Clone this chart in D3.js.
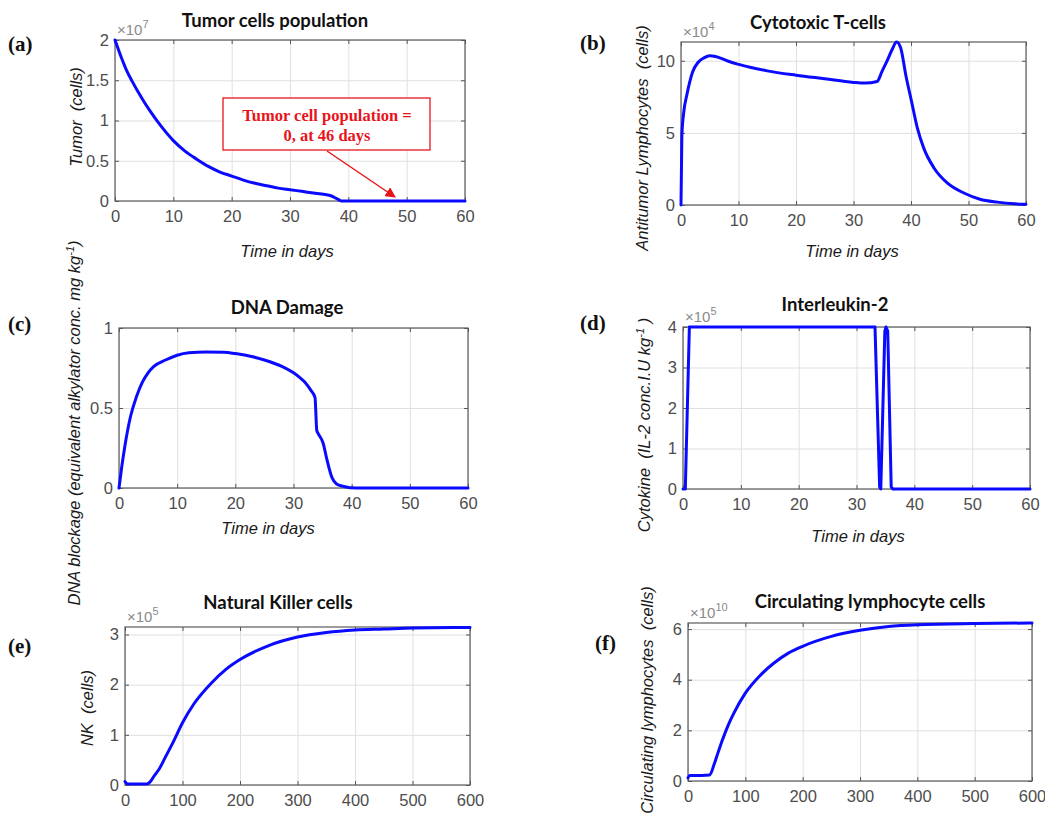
<!DOCTYPE html>
<html>
<head>
<meta charset="utf-8">
<script src="https://cdn.jsdelivr.net/npm/d3@7"></script>
<style>
  body { margin: 0; background: #fff; }
  text { white-space: pre; }
</style>
</head>
<body>
<svg id="fig" width="1045" height="814"></svg>
<script>
// ---- data ----
const dayTicks = [0, 10, 20, 30, 40, 50, 60];
const longTicks = [0, 100, 200, 300, 400, 500, 600];

// (a) tumor cells, x1e7
const tumorT = [0, 1, 2, 3, 4, 5, 6, 8, 10, 12, 14, 16, 18, 20, 22, 24, 26, 28, 30, 32, 34, 36, 37, 38, 38.8, 40, 50, 60];
const tumorY = [2.0, 1.8, 1.62, 1.48, 1.35, 1.23, 1.12, 0.92, 0.75, 0.62, 0.52, 0.43, 0.36, 0.31, 0.26, 0.22, 0.19, 0.16, 0.14, 0.12, 0.10, 0.08, 0.065, 0.03, 0, 0, 0, 0];

// (b) cytotoxic T-cells, x1e4
const tcellT = [0, 0.15, 0.5, 1, 1.5, 2, 3, 4, 5, 6, 8, 10, 12, 15, 20, 25, 30, 32, 34.1, 35, 35.8, 36.7, 37.5, 38.2, 39.1, 40.1, 41.1, 42.2, 44, 46.3, 49.2, 52, 55, 58, 60];
const tcellY = [0, 4.8, 6.5, 7.6, 8.5, 9.2, 9.9, 10.2, 10.35, 10.3, 10.0, 9.75, 9.55, 9.3, 9.0, 8.75, 8.5, 8.45, 8.56, 9.3, 9.95, 10.76, 11.3, 10.9, 9.0, 7.17, 5.35, 3.96, 2.57, 1.53, 0.83, 0.4, 0.2, 0.08, 0.05];

// (c) DNA damage
const dnaT = [0, 0.5, 1, 2, 3, 4, 5, 6, 8, 10, 12, 15, 18, 20, 23, 25, 28, 30, 31.1, 32, 33, 33.7, 34.0, 34.25, 35.1, 35.7, 36.6, 37.4, 38.6, 39.7, 42, 60];
const dnaY = [0, 0.14, 0.26, 0.45, 0.57, 0.66, 0.72, 0.76, 0.80, 0.83, 0.845, 0.85, 0.848, 0.84, 0.82, 0.80, 0.76, 0.72, 0.69, 0.66, 0.61, 0.565, 0.36, 0.34, 0.28, 0.185, 0.066, 0.025, 0.01, 0.002, 0, 0];

// (d) interleukin-2, x1e5
const il2T = [0, 0.4, 1.1, 33.2, 34.0, 34.2, 34.9, 35.1, 35.4, 36.0, 36.3, 60];
const il2Y = [0, 0, 4, 4, 0.05, 0, 3.9, 4, 3.9, 0.05, 0, 0];

// (e) NK cells, x1e5
const nkT = [0, 2, 5, 38, 45, 50, 60, 70, 84, 100, 120, 150, 175, 200, 250, 300, 350, 400, 450, 500, 600];
const nkY = [0.07, 0.04, 0.02, 0.02, 0.08, 0.17, 0.33, 0.55, 0.86, 1.24, 1.62, 2.03, 2.30, 2.50, 2.78, 2.95, 3.04, 3.09, 3.11, 3.13, 3.14];

// (f) circulating lymphocytes, x1e10
const circT = [0, 3, 10, 38, 45, 50, 60, 70, 80, 100, 125, 150, 175, 200, 250, 300, 350, 400, 500, 600];
const circY = [0.12, 0.22, 0.22, 0.24, 0.62, 0.96, 1.62, 2.2, 2.68, 3.47, 4.15, 4.66, 5.05, 5.32, 5.71, 5.95, 6.1, 6.17, 6.22, 6.24];

const panels = [
  { tag: '(a)', tagPos: [8, 51], box: [115, 40, 465, 201], xd: [0, 60], yd: [0, 2],
    xt: dayTicks, yt: [0, 0.5, 1, 1.5, 2], exp: '7',
    title: 'Tumor cells population', titlePos: [275, 27],
    ylab: [{ t: 'Tumor  (cells)' }], ylabPos: [82, 117],
    xlab: 'Time in days', xlabPos: [287, 257],
    t: tumorT, v: tumorY, curve: d3.curveMonotoneX },
  { tag: '(b)', tagPos: [580, 50], box: [681, 42, 1026, 205], xd: [0, 60], yd: [0, 11.3],
    xt: dayTicks, yt: [0, 5, 10], exp: '4',
    title: 'Cytotoxic T-cells', titlePos: [818, 29],
    ylab: [{ t: 'Antitumor Lymphocytes  (cells)' }], ylabPos: [648, 138],
    xlab: 'Time in days', xlabPos: [852, 257],
    t: tcellT, v: tcellY, curve: d3.curveMonotoneX },
  { tag: '(c)', tagPos: [8, 331], box: [119, 328, 468, 488], xd: [0, 60], yd: [0, 1],
    xt: dayTicks, yt: [0, 0.5, 1], exp: null,
    title: 'DNA Damage', titlePos: [287, 314],
    ylab: [{ t: 'DNA blockage (equivalent alkylator conc. mg kg' }, { t: '-1', sup: true }, { t: ')' }], ylabPos: [80, 423],
    xlab: 'Time in days', xlabPos: [268, 534],
    t: dnaT, v: dnaY, curve: d3.curveMonotoneX },
  { tag: '(d)', tagPos: [580, 330], box: [683, 327, 1030, 489], xd: [0, 60], yd: [0, 4],
    xt: dayTicks, yt: [0, 1, 2, 3, 4], exp: '5',
    title: 'Interleukin-2', titlePos: [835, 311],
    ylab: [{ t: 'Cytokine  (IL-2 conc.I.U kg' }, { t: '-1', sup: true }, { t: ' )' }], ylabPos: [650, 425],
    xlab: 'Time in days', xlabPos: [858, 542],
    t: il2T, v: il2Y, curve: d3.curveLinear },
  { tag: '(e)', tagPos: [8, 653], box: [125, 627, 470, 785], xd: [0, 600], yd: [0, 3.15],
    xt: longTicks, yt: [0, 1, 2, 3], exp: '5',
    title: 'Natural Killer cells', titlePos: [278, 609],
    ylab: [{ t: 'NK  (cells)' }], ylabPos: [93, 708],
    xlab: null,
    t: nkT, v: nkY, curve: d3.curveMonotoneX },
  { tag: '(f)', tagPos: [595, 650], box: [688, 623, 1032, 781], xd: [0, 600], yd: [0, 6.24],
    xt: longTicks, yt: [0, 2, 4, 6], exp: '10',
    title: 'Circulating lymphocyte cells', titlePos: [870, 608],
    ylab: [{ t: 'Circulating lymphocytes  (cells)' }], ylabPos: [653, 700],
    xlab: null,
    t: circT, v: circY, curve: d3.curveMonotoneX }
];

const svg = d3.select('#fig');
const tickFont = '"Liberation Sans", Arial, sans-serif';
const tickCol = '#4d4d4d';

panels.forEach(function (p) {
  const [x0, y0, x1, y1] = p.box;
  const w = x1 - x0, h = y1 - y0;
  const x = d3.scaleLinear().domain(p.xd).range([x0, x1]);
  const y = d3.scaleLinear().domain(p.yd).range([y1, y0]);
  const g = svg.append('g');

  // grid
  g.append('g')
    .attr('transform', 'translate(0,' + y1 + ')')
    .call(d3.axisBottom(x).tickValues(p.xt).tickSize(-h).tickFormat(''))
    .call(s => s.select('.domain').remove())
    .call(s => s.selectAll('line').attr('stroke', '#e0e0e0'));
  g.append('g')
    .attr('transform', 'translate(' + x0 + ',0)')
    .call(d3.axisLeft(y).tickValues(p.yt).tickSize(-w).tickFormat(''))
    .call(s => s.select('.domain').remove())
    .call(s => s.selectAll('line').attr('stroke', '#e0e0e0'));

  // inward ticks, all four sides
  const tk = 4;
  const tg = g.append('g');
  tg.append('g').attr('transform', 'translate(0,' + y1 + ')')
    .call(d3.axisBottom(x).tickValues(p.xt).tickSize(-tk).tickFormat(''));
  tg.append('g').attr('transform', 'translate(0,' + y0 + ')')
    .call(d3.axisTop(x).tickValues(p.xt).tickSize(-tk).tickFormat(''));
  tg.append('g').attr('transform', 'translate(' + x0 + ',0)')
    .call(d3.axisLeft(y).tickValues(p.yt).tickSize(-tk).tickFormat(''));
  tg.append('g').attr('transform', 'translate(' + x1 + ',0)')
    .call(d3.axisRight(y).tickValues(p.yt).tickSize(-tk).tickFormat(''));
  tg.selectAll('.tick line').attr('stroke', '#555');
  tg.selectAll('.domain').remove();

  // tick labels
  const xa = g.append('g').attr('transform', 'translate(0,' + y1 + ')')
    .call(d3.axisBottom(x).tickValues(p.xt).tickSize(0).tickPadding(9).tickFormat(d3.format('d')));
  const ya = g.append('g').attr('transform', 'translate(' + x0 + ',0)')
    .call(d3.axisLeft(y).tickValues(p.yt).tickSize(0).tickPadding(6).tickFormat(d => String(d)));
  [xa, ya].forEach(a => {
    a.select('.domain').remove();
    a.selectAll('text').attr('font-family', tickFont).attr('font-size', 16.5).attr('fill', tickCol);
  });

  // box
  g.append('rect').attr('x', x0).attr('y', y0).attr('width', w).attr('height', h)
    .attr('fill', 'none').attr('stroke', '#5a5a5a').attr('stroke-width', 1.2);

  // series
  const pts = p.t.map((t, i) => [t, p.v[i]]);
  g.append('path').datum(pts)
    .attr('fill', 'none').attr('stroke', '#0a0aff').attr('stroke-width', 3)
    .attr('stroke-linejoin', 'round').attr('stroke-linecap', 'round')
    .attr('d', d3.line().curve(p.curve).x(d => x(d[0])).y(d => y(d[1])));

  // exponent
  if (p.exp) {
    const e = g.append('text').attr('x', x0 + 2).attr('y', y0 - 5)
      .attr('font-family', tickFont).attr('font-size', 15).attr('fill', '#8a8a8a');
    e.append('tspan').text('\u00d710');
    e.append('tspan').attr('dy', -7).attr('font-size', 11).text(p.exp);
  }

  // title
  g.append('text').attr('x', p.titlePos[0]).attr('y', p.titlePos[1])
    .attr('text-anchor', 'middle').attr('font-family', 'Lato, "Open Sans", sans-serif')
    .attr('font-weight', 700).attr('font-size', 18.5).attr('fill', '#111').text(p.title);

  // panel tag
  g.append('text').attr('x', p.tagPos[0]).attr('y', p.tagPos[1])
    .attr('font-family', '"Liberation Serif", "Times New Roman", serif')
    .attr('font-weight', 700).attr('font-size', 21).attr('fill', '#111').text(p.tag);

  // y label
  const yl = g.append('text')
    .attr('transform', 'translate(' + p.ylabPos[0] + ',' + p.ylabPos[1] + ') rotate(-90)')
    .attr('text-anchor', 'middle').attr('font-family', tickFont)
    .attr('font-style', 'italic').attr('font-size', 16.5).attr('fill', '#1a1a1a');
  p.ylab.forEach(part => {
    const ts = yl.append('tspan').text(part.t);
    if (part.sup) ts.attr('dy', -6).attr('font-size', 11);
    else if (yl.selectAll('tspan').size() > 1) ts.attr('dy', 6);
  });

  // x label
  if (p.xlab) {
    g.append('text').attr('x', p.xlabPos[0]).attr('y', p.xlabPos[1])
      .attr('text-anchor', 'middle').attr('font-family', tickFont)
      .attr('font-style', 'italic').attr('font-size', 16.5).attr('fill', '#1a1a1a').text(p.xlab);
  }

  p.x = x; p.y = y;
});

// annotation on panel (a)
const pa = panels[0];
const noteDay = 48;
const ann = svg.append('g');
svg.append('defs').append('marker')
  .attr('id', 'arr').attr('viewBox', '0 0 10 10').attr('refX', 9).attr('refY', 5)
  .attr('markerWidth', 7).attr('markerHeight', 7).attr('orient', 'auto')
  .append('path').attr('d', 'M0,0 L10,5 L0,10 z').attr('fill', '#e8141b');
ann.append('rect').attr('x', 223).attr('y', 98).attr('width', 207).attr('height', 52)
  .attr('fill', '#fff').attr('stroke', '#e8141b').attr('stroke-width', 1.3);
ann.append('line')
  .attr('x1', 327).attr('y1', 151)
  .attr('x2', pa.x(noteDay)).attr('y2', pa.y(0) - 4)
  .attr('stroke', '#e8141b').attr('stroke-width', 1.5).attr('marker-end', 'url(#arr)');
['Tumor cell population =', '0, at 46 days'].forEach((s, i) => {
  ann.append('text').attr('x', 327).attr('y', 121 + i * 20).attr('text-anchor', 'middle')
    .attr('font-family', '"Liberation Serif", "Times New Roman", serif')
    .attr('font-weight', 700).attr('font-size', 16.5).attr('fill', '#e8141b').text(s);
});
</script>
</body>
</html>
